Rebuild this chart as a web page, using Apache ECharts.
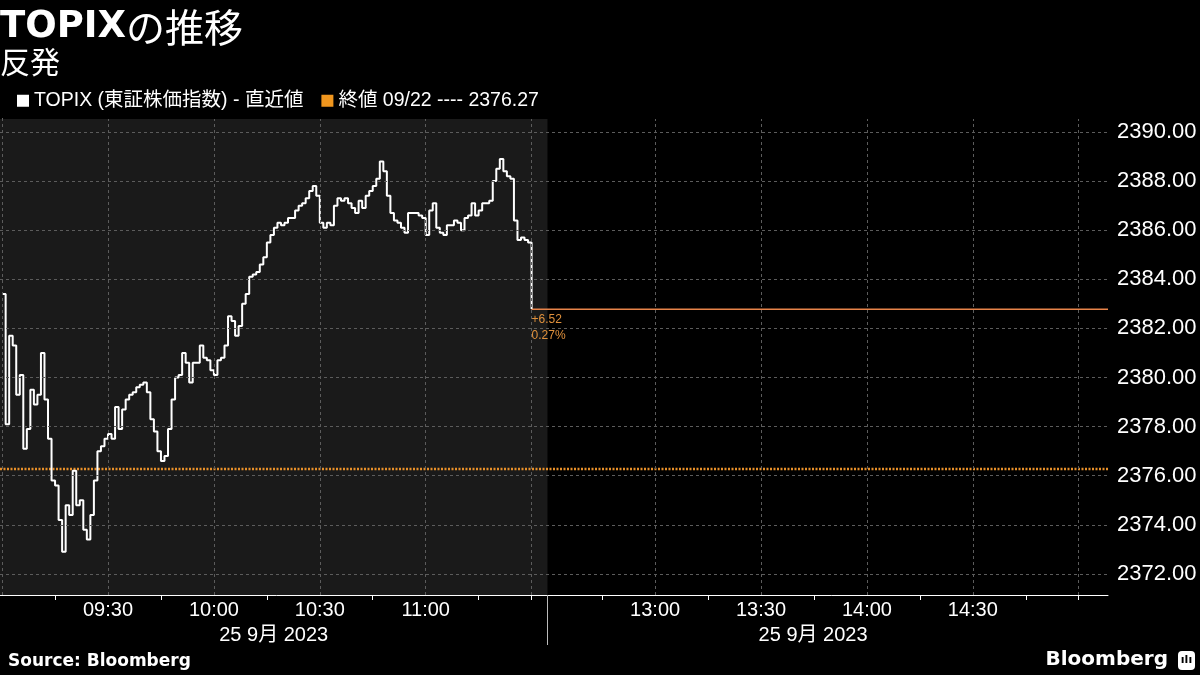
<!DOCTYPE html>
<html><head><meta charset="utf-8">
<script src="https://cdn.jsdelivr.net/npm/echarts@6/dist/echarts.min.js"></script>
<style>html,body{margin:0;padding:0;background:#000}#c{width:1200px;height:675px}</style>
</head><body><div id="c"></div><script>
// ---------- data ----------
const seriesName = 'TOPIX (東証株価指数) - 直近値';
const prevCloseName = '終値 09/22 ---- 2376.27';
const prevClose = 2376.27;
const lastChange = '+6.52';
const lastChangePct = '0.27%';
const dateLabel = '25 9月 2023';
// one value per minute, 09:00 .. 11:30
const topixValues = [
 2383.4,2378.1,2381.7,2381.3,2379.3,2380.1,2377.1,2377.9,2379.5,2378.9,
 2379.3,2381.0,2379.1,2377.5,2375.8,2375.6,2374.2,2372.9,2374.8,2374.4,
 2376.2,2374.8,2375.0,2373.8,2373.4,2374.4,2375.8,2377.0,2377.2,2377.5,
 2377.7,2377.5,2378.8,2377.9,2378.7,2379.1,2379.3,2379.4,2379.6,2379.7,
 2379.8,2379.4,2378.3,2377.8,2377.0,2376.6,2376.8,2377.9,2379.1,2380.0,
 2380.1,2381.0,2380.6,2379.8,2380.6,2380.6,2381.3,2380.8,2380.7,2380.3,
 2380.1,2380.7,2380.8,2381.3,2382.5,2382.3,2381.7,2382.1,2383.0,2383.4,
 2384.1,2384.2,2384.3,2384.6,2384.9,2385.5,2385.8,2386.1,2386.3,2386.2,
 2386.3,2386.5,2386.5,2386.8,2387.0,2387.1,2387.3,2387.6,2387.8,2387.4,
 2386.3,2386.1,2386.3,2386.2,2387.0,2387.3,2387.2,2387.3,2387.1,2386.9,
 2386.7,2387.2,2386.9,2387.4,2387.6,2387.8,2388.1,2388.8,2388.4,2387.4,
 2386.7,2386.4,2386.3,2386.1,2385.9,2386.7,2386.7,2386.7,2386.6,2386.5,
 2385.8,2386.8,2387.1,2386.1,2385.9,2385.8,2386.2,2386.2,2386.4,2386.3,
 2386.0,2386.5,2386.6,2387.1,2386.6,2386.8,2387.1,2387.1,2387.2,2388.0,
 2388.5,2388.9,2388.4,2388.2,2388.1,2386.4,2385.6,2385.7,2385.6,2385.5,
 2382.79
];
const timeTickLabels = ['09:30','10:00','10:30','11:00','13:00','13:30','14:00','14:30'];
const timeGridTimes = ['09:00','09:30','10:00','10:30','11:00','11:30','13:00','13:30','14:00','14:30','15:00'];
const timeMinorTicks = ['09:15','09:45','10:15','10:45','11:15','11:30','12:45','13:15','13:45','14:15','14:45','15:00'];
const yTickValues = [2372,2374,2376,2378,2380,2382,2384,2386,2388,2390];
const yMinorTickValues = [2371,2373,2375,2377,2379,2381,2383,2385,2387,2389];

// ---------- time axis mapping (lunch break compressed) ----------
const LUNCH_GAP = 5; // minutes of axis between 11:30 and 12:30
function toAxis(t){
  const p = t.split(':').map(Number); const mins = p[0]*60+p[1];
  if (mins <= 690) return mins - 540;
  return mins - 750 + 150 + LUNCH_GAP;
}
const xMin = -0.6, xMax = 313.3;
const yMin = 2371.14, yMax = 2390.53;
const divider = toAxis('12:30') - 0.5;
const labelMap = {}; timeTickLabels.forEach(t => labelMap[toAxis(t)] = t);
const lastVal = topixValues[topixValues.length-1];
const lastX = topixValues.length-1;

const FONT = "'Liberation Sans', 'Noto Sans CJK JP', sans-serif";
const ORANGE = '#e8902a';
const LAST = '#e8844a';
const chart = echarts.init(document.getElementById('c'));
chart.setOption({
  backgroundColor: '#000',
  animation: false,
  title: [
    {text: '{b|TOPIX}{n|の推移}', left: 0, top: 8, padding: 0,
     textStyle: {rich: {
       b: {fontFamily: 'DejaVu Sans', fontWeight: 'bold', fontSize: 37, color: '#fff'},
       n: {fontFamily: 'Noto Sans CJK JP', fontWeight: 'normal', fontSize: 39, color: '#fff'}}}},
    {text: '反発', left: 0, top: 47, padding: 0,
     textStyle: {fontFamily: 'Noto Sans CJK JP', fontWeight: 'normal', fontSize: 30, color: '#fff'}},
    {text: 'Source: Bloomberg', left: 8, top: 653, padding: 0,
     textStyle: {fontFamily: 'DejaVu Sans', fontWeight: 'bold', fontSize: 17, color: '#fff'}},
    {text: 'Bloomberg', right: 32, top: 650, padding: 0,
     textStyle: {fontFamily: 'DejaVu Sans', fontWeight: 'bold', fontSize: 20, color: '#fff'}},
    {text: '{i|ılı}', right: 5, top: 651, padding: 0,
     textStyle: {rich: {i: {backgroundColor: '#fff', borderRadius: 4, width: 17, height: 19, align: 'center',
       color: '#000', fontSize: 11, fontWeight: 'bold', fontFamily: 'DejaVu Sans', lineHeight: 19}}}}
  ],
  legend: {
    left: 17, top: 91, padding: 0, icon: 'rect', itemWidth: 12, itemHeight: 12, itemGap: 18,
    data: [seriesName, prevCloseName],
    textStyle: {color: '#fff', fontSize: 19.5, fontFamily: FONT}
  },
  grid: {left: 0, right: 92, top: 119, bottom: 80, outerBoundsMode: 'none', containLabel: false},
  xAxis: [{
    type: 'value', position: 'bottom', min: xMin, max: xMax,
    axisLine: {show: true, lineStyle: {color: '#fff', width: 1}},
    axisTick: {show: true, customValues: timeMinorTicks.map(toAxis), length: 5, lineStyle: {color: '#fff'}},
    axisLabel: {customValues: timeTickLabels.map(toAxis), formatter: v => labelMap[Math.round(v)] || '',
      color: '#fff', fontSize: 20, fontFamily: FONT, margin: 5},
    splitLine: {show: false}
  }, {
    type: 'value', position: 'bottom', min: xMin, max: xMax,
    axisLine: {show: false},
    axisTick: {show: true, customValues: [divider], length: 50, lineStyle: {color: '#bbb'}},
    axisLabel: {customValues: [(xMin+divider)/2, (divider+toAxis('15:00'))/2], formatter: () => dateLabel,
      color: '#fff', fontSize: 20, fontFamily: FONT, margin: 30},
    splitLine: {show: false}
  }],
  yAxis: {
    type: 'value', position: 'right', min: yMin, max: yMax,
    axisLine: {show: true, lineStyle: {color: '#fff', width: 1}},
    axisTick: {show: true, customValues: yTickValues.concat(yMinorTickValues), length: 5, lineStyle: {color: '#fff'}},
    axisLabel: {customValues: yTickValues, formatter: v => v.toFixed(2), color: '#fff', fontSize: 22, fontFamily: FONT, margin: 9},
    splitLine: {show: false}
  },
  series: [
    { // session panel
      type: 'line', name: 'panel', data: [[xMin, yMin]], showSymbol: false, lineStyle: {opacity: 0}, z: 1, silent: true,
      markArea: {silent: true, itemStyle: {color: '#1a1a1a'}, data: [[{xAxis: xMin}, {xAxis: divider}]]}
    },
    { // grid lines
      type: 'line', name: 'grid', data: [[xMin, yMin]], showSymbol: false, lineStyle: {opacity: 0}, z: 2, silent: true,
      markLine: {silent: true, symbol: ['none','none'], label: {show: false},
        lineStyle: {color: '#5c5c5c', type: [3,3], width: 1},
        data: timeGridTimes.map(t => ({xAxis: toAxis(t)})).concat(yTickValues.map(v => ({yAxis: v})))}
    },
    {
      type: 'line', name: prevCloseName, z: 3, showSymbol: false, silent: true,
      data: [[xMin, prevClose], [xMax, prevClose]],
      itemStyle: {color: '#f0961e'},
      lineStyle: {color: ORANGE, width: 2.5, type: [2,1.5]}
    },
    { // last value line with change label
      type: 'line', name: 'last', z: 3, showSymbol: false, silent: true,
      data: [[lastX, lastVal], [xMax, lastVal]],
      itemStyle: {color: LAST},
      lineStyle: {color: LAST, width: 1.2},
      markLine: {silent: true, symbol: ['none','none'],
        lineStyle: {color: LAST, type: 'solid', width: 1.2},
        label: {show: true, position: 'insideStartBottom', distance: [0, 3], formatter: lastChange + '\n' + lastChangePct,
          color: '#e0913c', fontSize: 12, lineHeight: 16, fontFamily: FONT, align: 'left'},
        data: [[{coord: [lastX, lastVal]}, {coord: [xMax, lastVal]}]]}
    },
    {
      type: 'line', name: seriesName, z: 4, step: 'end', showSymbol: false,
      data: topixValues.map((v, i) => [i, v]),
      itemStyle: {color: '#fff'},
      lineStyle: {color: '#fff', width: 2}
    }
  ]
});
</script></body></html>
